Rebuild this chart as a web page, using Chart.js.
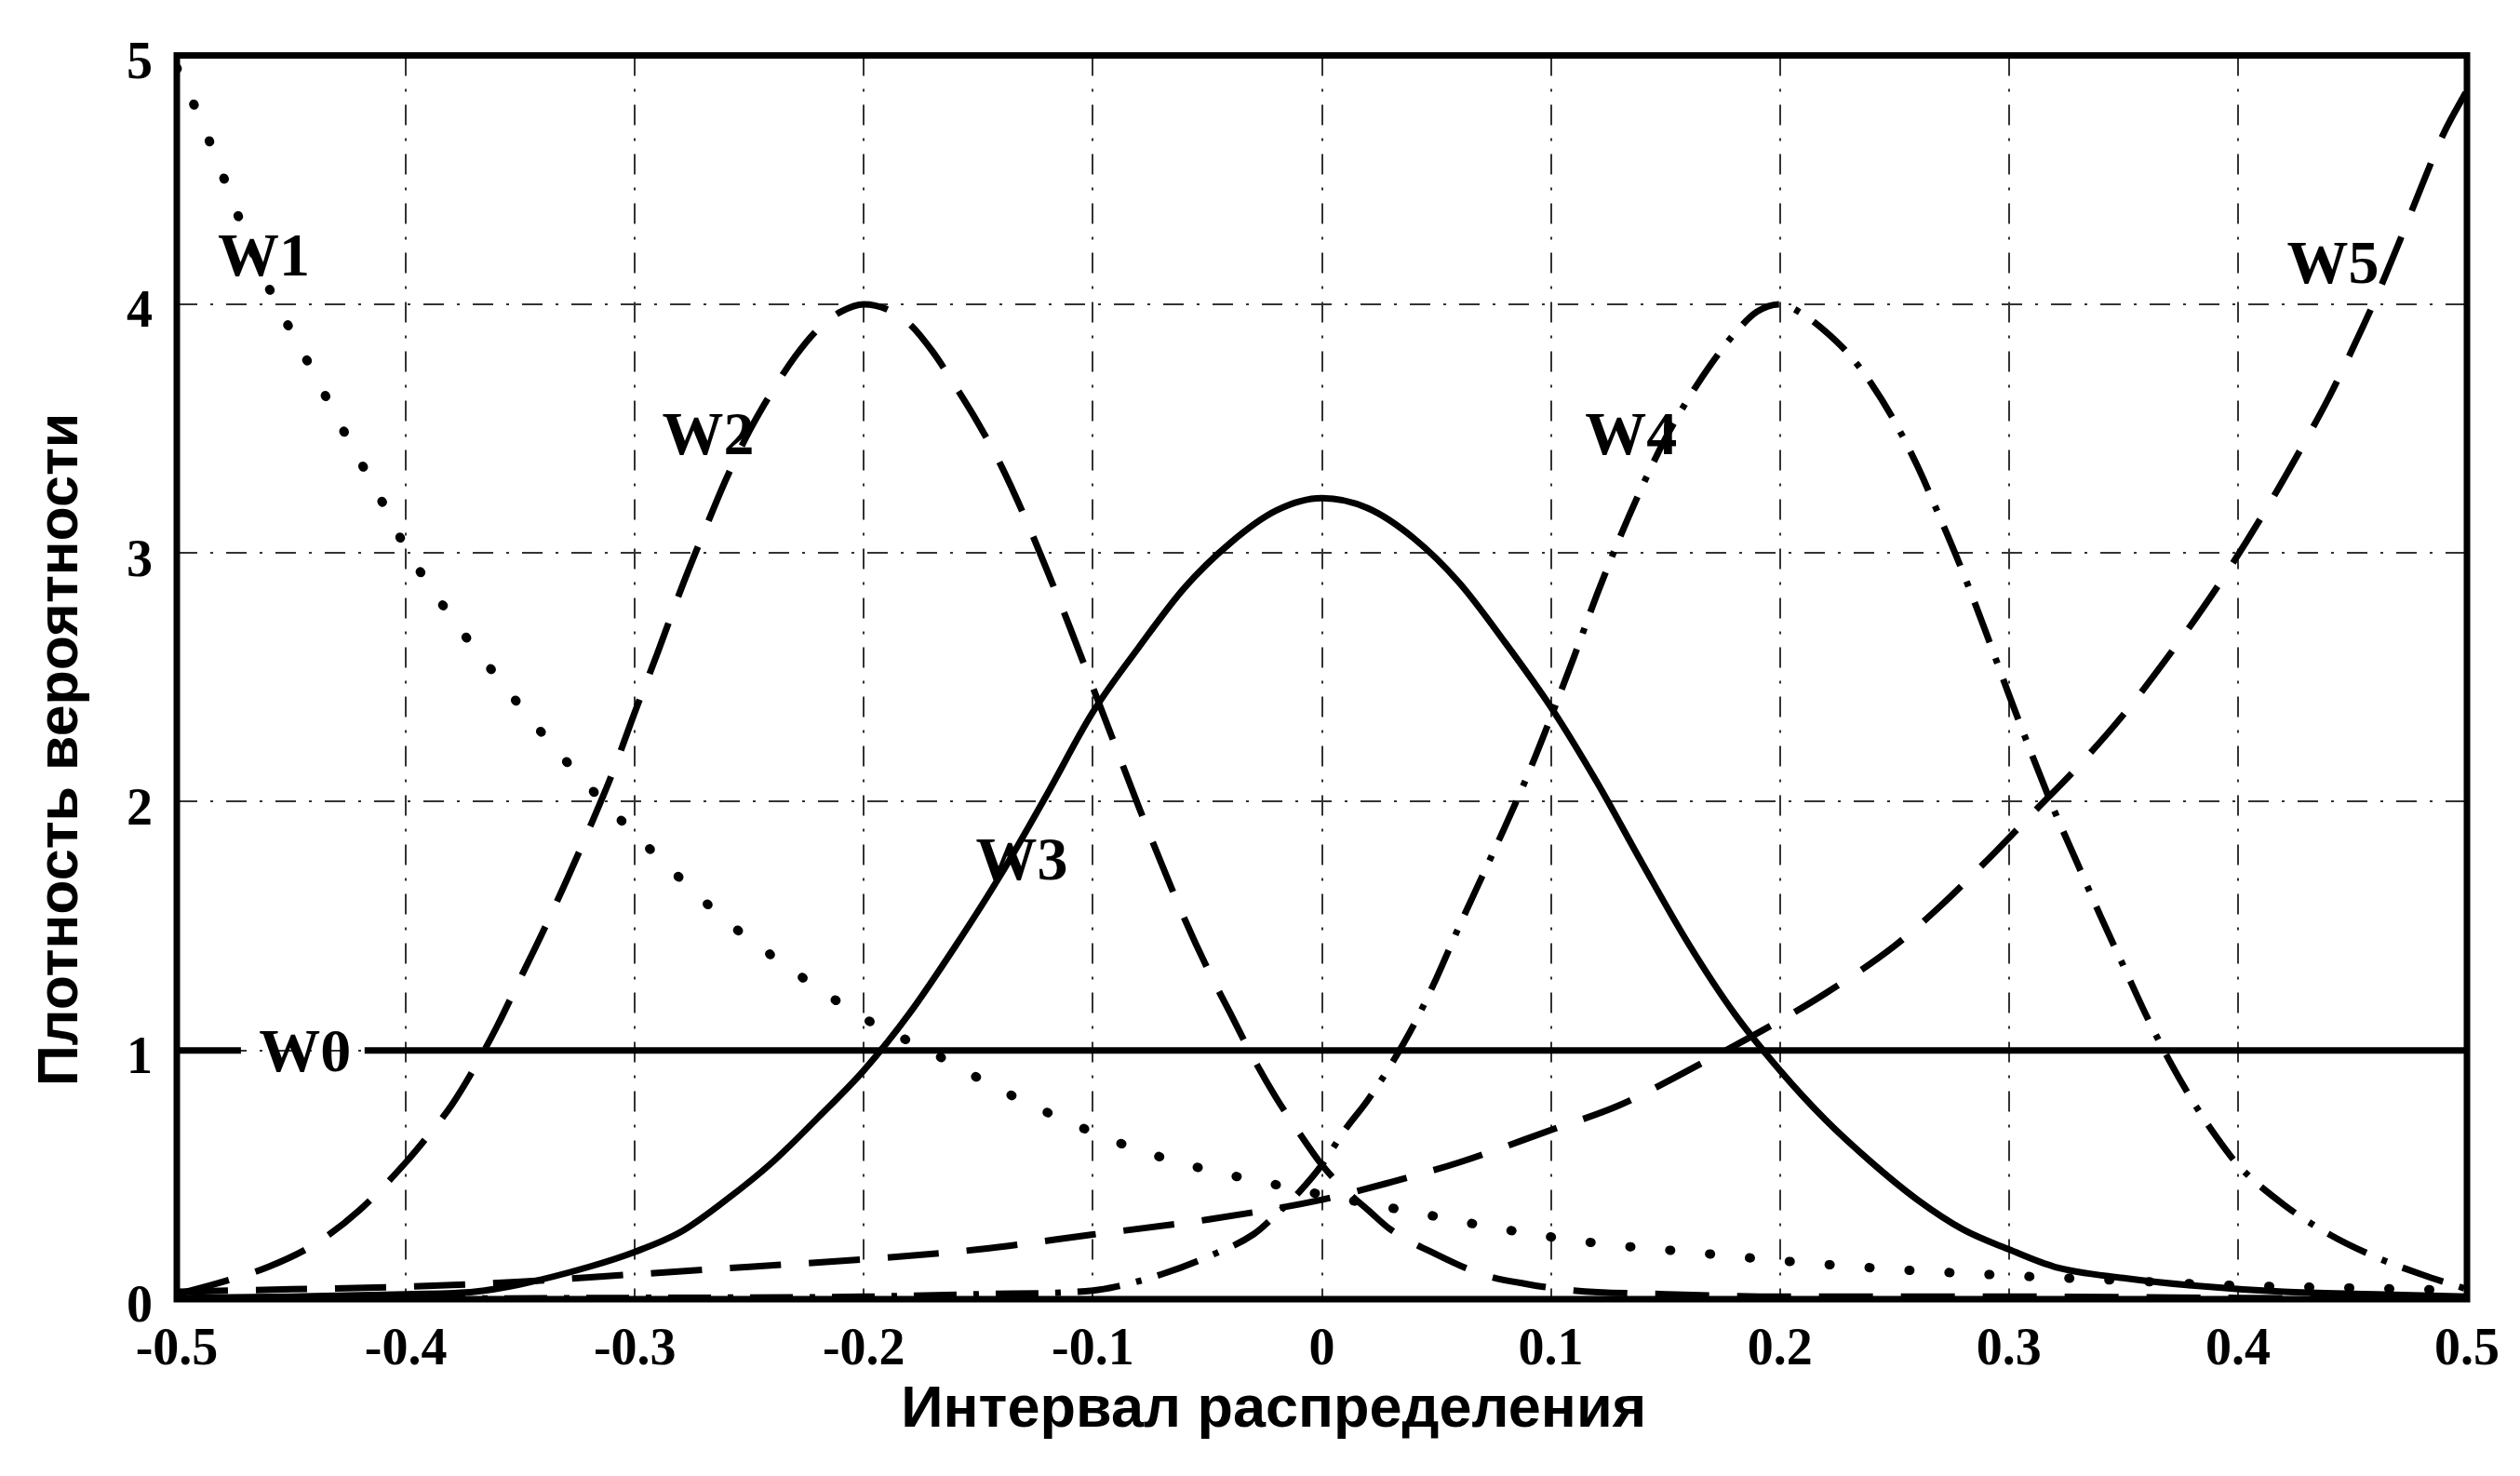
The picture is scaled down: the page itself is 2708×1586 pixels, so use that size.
<!DOCTYPE html>
<html lang="ru">
<head>
<meta charset="utf-8">
<title>Плотность вероятности</title>
<script src="https://cdn.jsdelivr.net/npm/chart.js@4.4.1/dist/chart.umd.min.js"></script>
<style>
    html, body { margin: 0; padding: 0; background: #fff; }
    #chart { display: block; }
</style>
</head>
<body>
<canvas id="chart" width="2708" height="1586"></canvas>
<script>
// =======================================================
// ===== DATA ============================================
// =======================================================

const xTickValues = [-0.5, -0.4, -0.3, -0.2, -0.1, 0, 0.1, 0.2, 0.3, 0.4, 0.5];
const xTickLabels = ['-0.5', '-0.4', '-0.3', '-0.2', '-0.1', '0', '0.1', '0.2', '0.3', '0.4', '0.5'];
const yTickValues = [0, 1, 2, 3, 4, 5];
const yTickLabels = ['0', '1', '2', '3', '4', '5'];

const xTitle = 'Интервал распределения';
const yTitle = 'Плотность вероятности';

// W0 - uniform, broken where its label sits
const w0X = [-0.5, -0.472, -0.445, -0.418, 0.5];
const w0Y = [1, 1, null, 1, 1];

// W1 - dotted, falling from the left edge
const w1X = [-0.5, -0.49, -0.48, -0.47, -0.46, -0.45, -0.44, -0.43, -0.42, -0.41, -0.4, -0.38, -0.36, -0.34, -0.32, -0.3,
             -0.28, -0.26, -0.24, -0.22, -0.2, -0.17, -0.14, -0.11, -0.08, -0.05, -0.02, 0, 0.04, 0.08, 0.12, 0.16, 0.2,
             0.25, 0.3, 0.35, 0.4, 0.45, 0.5];
const w1Y = [4.95, 4.75, 4.52, 4.28, 4.07, 3.89, 3.72, 3.54, 3.37, 3.2, 3.02, 2.74, 2.5, 2.27, 2.06, 1.87,
             1.69, 1.52, 1.38, 1.25, 1.13, 0.99, 0.84, 0.71, 0.6, 0.52, 0.46, 0.42, 0.35, 0.28, 0.225, 0.19, 0.155,
             0.12, 0.095, 0.075, 0.055, 0.045, 0.035];

// W2 - long dashes, peak near -0.2
const w2X = [-0.5, -0.48, -0.46, -0.44, -0.42, -0.4, -0.39, -0.38, -0.37, -0.36, -0.35, -0.34, -0.33, -0.32, -0.31, -0.3,
             -0.29, -0.28, -0.27, -0.26, -0.25, -0.24, -0.23, -0.22, -0.21, -0.2, -0.19, -0.18, -0.17, -0.16, -0.15,
             -0.14, -0.13, -0.12, -0.11, -0.1, -0.09, -0.08, -0.07, -0.06, -0.05, -0.04, -0.03, -0.02, -0.01, 0,
             0.01, 0.02, 0.03, 0.05, 0.07, 0.09, 0.11, 0.15, 0.2, 0.3, 0.4, 0.5];
const w2Y = [0.02, 0.07, 0.13, 0.22, 0.36, 0.55, 0.66, 0.78, 0.93, 1.1, 1.29, 1.48, 1.68, 1.89, 2.11, 2.36,
             2.6, 2.85, 3.08, 3.3, 3.49, 3.65, 3.79, 3.9, 3.97, 4.0, 3.98, 3.92, 3.81, 3.67, 3.52,
             3.35, 3.15, 2.93, 2.7, 2.46, 2.22, 1.98, 1.75, 1.53, 1.33, 1.15, 0.97, 0.81, 0.67, 0.54,
             0.44, 0.36, 0.28, 0.18, 0.1, 0.06, 0.035, 0.02, 0.01, 0.01, 0.005, 0];

// W3 - solid bell in the middle
const w3X = [-0.5, -0.45, -0.4, -0.37, -0.35, -0.32, -0.3, -0.28, -0.26, -0.24, -0.22, -0.2, -0.18, -0.16, -0.14, -0.12,
             -0.1, -0.08, -0.06, -0.04, -0.02, 0, 0.02, 0.04, 0.06, 0.08, 0.1, 0.12, 0.14, 0.16, 0.18, 0.2, 0.22,
             0.24, 0.26, 0.28, 0.3, 0.32, 0.35, 0.38, 0.42, 0.46, 0.5];
const w3Y = [0.005, 0.01, 0.02, 0.03, 0.06, 0.13, 0.19, 0.27, 0.4, 0.55, 0.73, 0.92, 1.15, 1.42, 1.71, 2.03,
             2.36, 2.62, 2.86, 3.04, 3.17, 3.22, 3.18, 3.06, 2.88, 2.64, 2.38, 2.08, 1.75, 1.43, 1.15, 0.92, 0.72,
             0.55, 0.4, 0.28, 0.2, 0.13, 0.085, 0.055, 0.03, 0.02, 0.01];

// W4 - dash-dot, peak near 0.2
const w4X = [-0.5, -0.3, -0.2, -0.15, -0.1, -0.09, -0.07, -0.05, -0.03, -0.02, -0.01, 0, 0.01, 0.02, 0.03, 0.04, 0.05,
             0.06, 0.07, 0.08, 0.09, 0.1, 0.11, 0.12, 0.13, 0.14, 0.15, 0.16, 0.17, 0.18, 0.19, 0.2, 0.21, 0.22,
             0.23, 0.24, 0.25, 0.26, 0.27, 0.28, 0.29, 0.3, 0.31, 0.32, 0.33, 0.34, 0.35, 0.36, 0.37, 0.38, 0.39,
             0.4, 0.42, 0.44, 0.46, 0.48, 0.5];
const w4Y = [0, 0.005, 0.01, 0.02, 0.035, 0.05, 0.1, 0.17, 0.26, 0.34, 0.43, 0.54, 0.68, 0.8, 0.94, 1.1, 1.29,
             1.5, 1.7, 1.9, 2.11, 2.34, 2.58, 2.83, 3.06, 3.27, 3.46, 3.62, 3.76, 3.88, 3.97, 4.0, 3.96, 3.89,
             3.8, 3.68, 3.53, 3.35, 3.14, 2.92, 2.68, 2.43, 2.19, 1.96, 1.75, 1.54, 1.34, 1.14, 0.96, 0.8, 0.66,
             0.54, 0.38, 0.26, 0.17, 0.1, 0.04];

// W5 - dashed, rising to the right edge
const w5X = [-0.5, -0.45, -0.4, -0.35, -0.3, -0.25, -0.2, -0.15, -0.1, -0.05, 0, 0.03, 0.06, 0.1, 0.13, 0.16, 0.2,
             0.22, 0.25, 0.27, 0.29, 0.31, 0.33, 0.35, 0.37, 0.39, 0.41, 0.43, 0.44, 0.45, 0.46, 0.47, 0.48, 0.49, 0.5];
const w5Y = [0.03, 0.04, 0.05, 0.07, 0.1, 0.13, 0.16, 0.2, 0.26, 0.32, 0.4, 0.47, 0.55, 0.68, 0.78, 0.92, 1.12,
             1.23, 1.42, 1.58, 1.76, 1.95, 2.14, 2.35, 2.59, 2.85, 3.14, 3.46, 3.63, 3.82, 4.02, 4.24, 4.47, 4.69, 4.86];

// =======================================================
// ===== CHART ===========================================
// =======================================================

const SERIF = '"Liberation Serif", "Times New Roman", serif';
const SANS = '"Liberation Sans", Arial, sans-serif';

// curve names written next to the curves (data coordinates)
const curveLabels = [
    { text: 'W0', x: -0.444, y: 0.98 },
    { text: 'W1', x: -0.462, y: 4.18 },
    { text: 'W2', x: -0.268, y: 3.46 },
    { text: 'W3', x: -0.131, y: 1.75 },
    { text: 'W4', x: 0.135, y: 3.46 },
    { text: 'W5', x: 0.4415, y: 4.15 }
];

function toPoints(xs, ys) {
    return xs.map((x, i) => ({ x: x, y: ys[i] }));
}

function makeDataset(label, xs, ys, dash, width, cap) {
    return {
        label: label,
        data: toPoints(xs, ys),
        borderColor: '#000',
        borderWidth: width,
        borderDash: dash,
        borderCapStyle: cap || 'butt',
        pointRadius: 0,
        fill: false,
        spanGaps: false,
        cubicInterpolationMode: 'monotone'
    };
}

// text labels for the curves
const curveLabelPlugin = {
    id: 'curveLabelPlugin',
    afterDatasetsDraw(chart) {
        const { ctx, scales } = chart;
        ctx.save();
        ctx.font = 'bold 66px ' + SERIF;
        ctx.fillStyle = '#000';
        ctx.textAlign = 'center';
        ctx.textBaseline = 'middle';
        curveLabels.forEach(l => {
            ctx.fillText(l.text, scales.x.getPixelForValue(l.x), scales.y.getPixelForValue(l.y));
        });
        ctx.restore();
    }
};

// heavy box round the plot area + the two axis titles
// (titles are placed by hand: in the scan they sit off-centre)
const framePlugin = {
    id: 'framePlugin',
    afterDraw(chart) {
        const { ctx, chartArea: a } = chart;
        const w = a.right - a.left;
        const h = a.bottom - a.top;
        ctx.save();
        ctx.setLineDash([]);
        ctx.lineWidth = 7;
        ctx.strokeStyle = '#000';
        ctx.strokeRect(a.left, a.top, w, h);

        ctx.fillStyle = '#000';
        ctx.textAlign = 'center';
        ctx.textBaseline = 'middle';
        ctx.font = 'bold 63px ' + SANS;
        ctx.fillText(xTitle, a.left + w * 0.479, a.bottom + 120);

        ctx.font = 'bold 61px ' + SANS;
        ctx.translate(a.left - 124, a.top + h * 0.558);
        ctx.rotate(-Math.PI / 2);
        ctx.fillText(yTitle, 0, 0);
        ctx.restore();
    }
};

const gridDash = [22, 14, 3, 14];

new Chart(document.getElementById('chart').getContext('2d'), {
    type: 'line',
    data: {
        datasets: [
            Object.assign(makeDataset('W0', w0X, w0Y, [], 7), { cubicInterpolationMode: 'default', tension: 0 }),
            makeDataset('W1', w1X, w1Y, [1, 42], 10, 'round'),
            makeDataset('W2', w2X, w2Y, [58, 30], 7),
            makeDataset('W3', w3X, w3Y, [], 7),
            makeDataset('W4', w4X, w4Y, [46, 18, 6, 18], 7),
            makeDataset('W5', w5X, w5Y, [55, 30], 7)
        ]
    },
    options: {
        responsive: false,
        animation: false,
        devicePixelRatio: 1,
        layout: { padding: { top: 48, right: 38, left: 0, bottom: 0 } },
        plugins: {
            legend: { display: false },
            tooltip: { enabled: false }
        },
        scales: {
            x: {
                type: 'linear',
                min: -0.5,
                max: 0.5,
                afterBuildTicks: scale => { scale.ticks = xTickValues.map(v => ({ value: v })); },
                afterFit: scale => { scale.height = 190; },
                ticks: {
                    callback: (value, index) => xTickLabels[index],
                    font: { family: SERIF, size: 56, weight: 'bold' },
                    color: '#000',
                    padding: 22,
                    maxRotation: 0,
                    autoSkip: false
                },
                grid: { color: '#333', lineWidth: 2, drawTicks: false },
                border: { display: false, dash: gridDash }
            },
            y: {
                type: 'linear',
                min: 0,
                max: 5,
                afterBuildTicks: scale => { scale.ticks = yTickValues.map(v => ({ value: v })); },
                afterFit: scale => { scale.width = 190; },
                ticks: {
                    callback: (value, index) => yTickLabels[index],
                    font: { family: SERIF, size: 56, weight: 'bold' },
                    color: '#000',
                    padding: 26,
                    labelOffset: 10
                },
                grid: { color: '#333', lineWidth: 2, drawTicks: false },
                border: { display: false, dash: gridDash }
            }
        }
    },
    plugins: [curveLabelPlugin, framePlugin]
});
</script>
</body>
</html>
